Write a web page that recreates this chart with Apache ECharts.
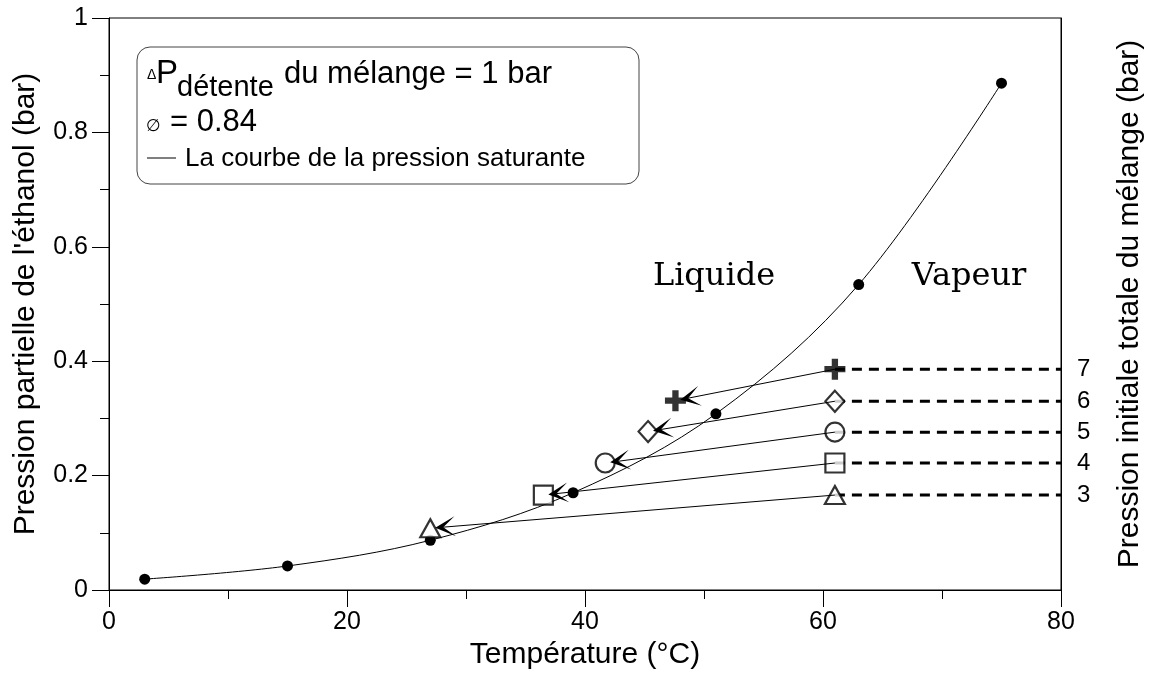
<!DOCTYPE html>
<html>
<head>
<meta charset="utf-8">
<script src="https://cdn.jsdelivr.net/npm/echarts@6/dist/echarts.min.js"></script>
<style>
  html, body { margin: 0; padding: 0; background: #fff; }
  #chart { width: 1156px; height: 684px; }
</style>
</head>
<body>
<div id="chart"></div>
<script>
// courbe de pression saturante (points mesurés)
const satT = [3, 15, 27, 39, 51, 63, 75];
const satP = [0.019, 0.042, 0.087, 0.170, 0.308, 0.534, 0.886];

// niveaux de pression initiale totale du mélange (bar)
const levels = ['3', '4', '5', '6', '7'];
const initT = 61;
const initP = [0.166, 0.222, 0.276, 0.330, 0.386];
// états après détente
const finalT = [27.0, 36.5, 41.7, 45.3, 47.6];
const finalP = [0.108, 0.166, 0.222, 0.277, 0.331];
const endT = 80;

const plusPath = 'path://M-0.9,-3H0.9V-0.9H3V0.9H0.9V3H-0.9V0.9H-3V-0.9H-0.9Z';
const symbols = ['triangle', 'rect', 'circle', 'diamond', plusPath];
const symSizes = [[20, 18], 19, 19, [19, 21], 21];

const font = 'Liberation Sans, Arial, sans-serif';

let chart = echarts.init(document.getElementById('chart'));

// trajet de détente : ligne + pointe de flèche à l'état final
function renderArrow(params, api) {
  const p0 = api.coord([api.value(0), api.value(1)]);
  const p1 = api.coord([api.value(2), api.value(3)]);
  const dx = p0[0] - p1[0];
  const dy = p0[1] - p1[1];
  const len = Math.sqrt(dx * dx + dy * dy);
  const ux = dx / len, uy = dy / len;
  const nx = -uy, ny = ux;
  const tip = [p1[0] + ux * 5, p1[1] + uy * 5];
  const L = 20, W = 10, notch = 8;
  return {
    type: 'group',
    children: [
      {
        type: 'line',
        shape: { x1: p0[0], y1: p0[1], x2: tip[0] + ux * 2, y2: tip[1] + uy * 2 },
        style: { stroke: '#000', lineWidth: 1 },
      },
      {
        type: 'polygon',
        shape: {
          points: [
            tip,
            [tip[0] + ux * L + nx * W, tip[1] + uy * L + ny * W],
            [tip[0] + ux * notch, tip[1] + uy * notch],
            [tip[0] + ux * L - nx * W, tip[1] + uy * L - ny * W],
          ],
        },
        style: { fill: '#000' },
      },
    ],
  };
}

let series = [
  {
    name: 'saturation',
    type: 'line',
    data: satT.map((t, i) => [t, satP[i]]),
    smooth: 0.35,
    symbol: 'circle',
    symbolSize: 11,
    showAllSymbol: true,
    lineStyle: { color: '#000', width: 1 },
    itemStyle: { color: '#000' },
    z: 3,
  },
];

levels.forEach((lv, i) => {
  // pointillés vers l'axe de droite
  series.push({
    type: 'line',
    data: [[initT, initP[i]], [endT, initP[i]]],
    symbol: 'none',
    lineStyle: { color: '#000', width: 3, type: [10, 7] },
    endLabel: {
      show: true,
      formatter: lv,
      color: '#000',
      fontSize: 24,
      fontFamily: font,
      distance: 16,
    },
    z: 2,
  });
  // marqueurs initial / final
  const isPlus = i === 4;
  series.push({
    type: 'scatter',
    data: [[initT, initP[i]], [finalT[i], finalP[i]]],
    symbol: symbols[i],
    symbolSize: symSizes[i],
    itemStyle: {
      color: isPlus ? '#000' : '#fff',
      borderColor: '#000',
      borderWidth: isPlus ? 0 : 2.2,
    },
    z: 4,
  });
  series.push({
    type: 'custom',
    renderItem: renderArrow,
    data: [[initT, initP[i], finalT[i], finalP[i]]],
    z: 5,
  });
});

let option = {
  animation: false,
  backgroundColor: '#fff',
  grid: {
    left: 109,
    right: 95,
    top: 18,
    bottom: 94,
    outerBoundsMode: 'none',
    containLabel: false,
    show: true,
    borderColor: '#000',
    borderWidth: 1,
  },
  xAxis: {
    type: 'value',
    min: 0,
    max: 80,
    interval: 20,
    name: 'Température (°C)',
    nameLocation: 'middle',
    nameGap: 50,
    nameTextStyle: { color: '#000', fontSize: 30, fontFamily: font },
    axisLine: { lineStyle: { color: '#000', width: 1 } },
    axisTick: { show: true, inside: false, length: 17, lineStyle: { color: '#000' } },
    minorTick: { show: true, splitNumber: 2, length: 9, lineStyle: { color: '#000' } },
    axisLabel: { color: '#000', fontSize: 25, fontFamily: font, margin: 20 },
    splitLine: { show: false },
  },
  yAxis: [
    {
      type: 'value',
      min: 0,
      max: 1,
      interval: 0.2,
      name: "Pression partielle de l'éthanol (bar)",
      nameLocation: 'middle',
      nameGap: 68,
      nameTextStyle: { color: '#000', fontSize: 30, fontFamily: font },
      axisLine: { show: true, lineStyle: { color: '#000', width: 1 } },
      axisTick: { show: true, inside: false, length: 17, lineStyle: { color: '#000' } },
      minorTick: { show: true, splitNumber: 2, length: 9, lineStyle: { color: '#000' } },
      axisLabel: { color: '#000', fontSize: 25, fontFamily: font, margin: 21 },
      splitLine: { show: false },
    },
    {
      type: 'value',
      position: 'right',
      min: 0,
      max: 1,
      interval: 0.2,
      name: 'Pression initiale totale du mélange (bar)',
      nameLocation: 'middle',
      nameRotate: 90,
      nameGap: 54,
      nameTextStyle: { color: '#000', fontSize: 30, fontFamily: font },
      axisLine: { show: true, lineStyle: { color: '#000', width: 1 } },
      axisTick: { show: false },
      axisLabel: { show: false },
      splitLine: { show: false },
    },
  ],
  graphic: [
    {
      type: 'rect',
      shape: { x: 137, y: 47, width: 502, height: 137, r: 13 },
      style: { fill: '#fff', stroke: '#444', lineWidth: 1 },
      z: 10,
    },
    { type: 'text', x: 147, y: 75, z: 11,
      style: { text: 'Δ', fontSize: 14, fontFamily: font, fill: '#000', verticalAlign: 'middle' } },
    { type: 'text', x: 156, y: 74, z: 11,
      style: { text: 'P', fontSize: 33, fontFamily: font, fill: '#000', verticalAlign: 'middle' } },
    { type: 'text', x: 177, y: 88, z: 11,
      style: { text: 'détente', fontSize: 29, fontFamily: font, fill: '#000', verticalAlign: 'middle' } },
    { type: 'text', x: 284, y: 74, z: 11,
      style: { text: 'du mélange = 1 bar', fontSize: 31, fontFamily: font, fill: '#000', verticalAlign: 'middle' } },
    { type: 'text', x: 146, y: 127, z: 11,
      style: { text: '∅', fontSize: 17, fontFamily: 'DejaVu Sans, sans-serif', fill: '#000', verticalAlign: 'middle' } },
    { type: 'text', x: 170, y: 122, z: 11,
      style: { text: '= 0.84', fontSize: 31, fontFamily: font, fill: '#000', verticalAlign: 'middle' } },
    { type: 'line', z: 11, shape: { x1: 147, y1: 158, x2: 176, y2: 158 },
      style: { stroke: '#000', lineWidth: 1 } },
    { type: 'text', x: 185, y: 159, z: 11,
      style: { text: 'La courbe de la pression saturante', fontSize: 26, fontFamily: font, fill: '#000', verticalAlign: 'middle' } },
    { type: 'text', x: 714, y: 277, z: 11,
      style: { text: 'Liquide', fontSize: 32, fontFamily: 'DejaVu Serif, serif', fill: '#000', align: 'center', verticalAlign: 'middle' } },
    { type: 'text', x: 969, y: 277, z: 11,
      style: { text: 'Vapeur', fontSize: 32, fontFamily: 'DejaVu Serif, serif', fill: '#000', align: 'center', verticalAlign: 'middle' } },
  ],
  series: series,
};

chart.setOption(option);
window.addEventListener('resize', () => {
  chart.resize();
});
</script>
</body>
</html>
